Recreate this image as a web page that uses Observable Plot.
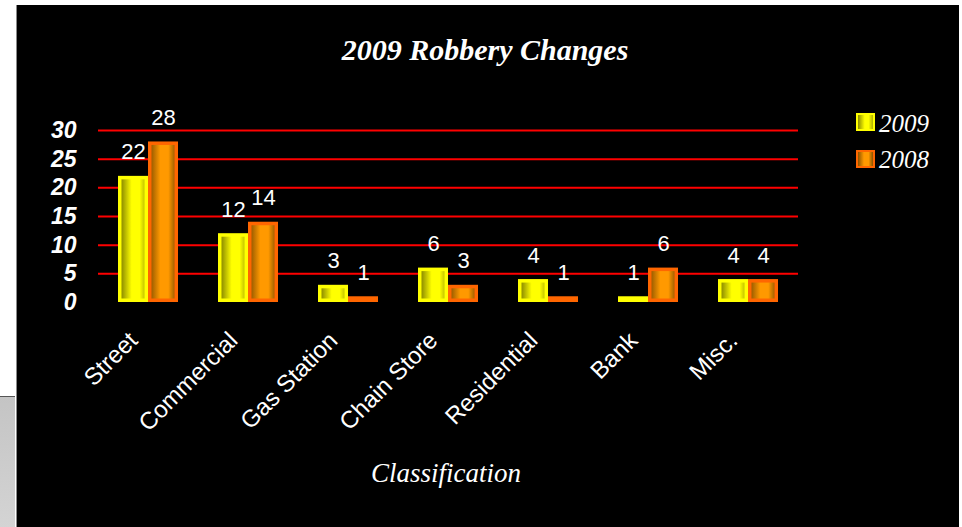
<!DOCTYPE html>
<html>
<head>
<meta charset="utf-8">
<script src="https://cdn.jsdelivr.net/npm/d3@7"></script>
<script src="https://cdn.jsdelivr.net/npm/@observablehq/plot@0.6"></script>
<style>
  html, body { margin: 0; padding: 0; background: #ffffff; }
  #wrap { position: relative; width: 962px; height: 527px; overflow: hidden; }
  #panel { position: absolute; left: 16px; top: 5px; width: 943px; height: 522px; background: #000; border-left: 1px solid #8a8a8a; box-sizing: border-box; }
  #side { position: absolute; left: 0; top: 396px; width: 15px; height: 131px; background: linear-gradient(to bottom, #c4c4c4, #d4d4d4); border-top: 1px solid #555; }
  #chart { position: absolute; left: 0; top: 0; }
  .serif { font-family: "Palatino Linotype", "Book Antiqua", Palatino, "Liberation Serif", "DejaVu Serif", serif; color: #fff; position: absolute; white-space: nowrap; }
  #title { font-size: 30px; font-weight: bold; font-style: italic; line-height: 30px; top: 35px; left: 485px; transform: translateX(-50%); }
  #xlabel { font-size: 27px; font-style: italic; line-height: 27px; top: 460px; left: 446px; transform: translateX(-50%); }
  .legtext { font-size: 25px; font-style: italic; line-height: 25px; left: 879px; }
  .sw { position: absolute; left: 856px; width: 19px; height: 18px; box-sizing: border-box; border: 2px solid; }
</style>
</head>
<body>
<div id="wrap">
  <div id="panel"></div>
  <div id="side"></div>
  <div id="chart"></div>
  <div id="title" class="serif">2009 Robbery Changes</div>
  <div id="xlabel" class="serif">Classification</div>
  <div class="sw" style="top:113px;border-color:#ffff00;background:linear-gradient(to right,#8a8a00,#ffff00 45%,#ffff00 70%,#b0b000);"></div>
  <div class="legtext serif" style="top:111px;">2009</div>
  <div class="sw" style="top:150px;border-color:#ff6600;background:linear-gradient(to right,#8a5200,#ff9900 40%,#ff9900 70%,#8a5200);"></div>
  <div class="legtext serif" style="top:147px;">2008</div>
</div>
<script>
const categories = ["Street", "Commercial", "Gas Station", "Chain Store", "Residential", "Bank", "Misc."];
const series = ["2009", "2008"];
const v2009 = [22, 12, 3, 6, 4, 1, 4];
const v2008 = [28, 14, 1, 3, 1, 6, 4];
const yTicks = [0, 5, 10, 15, 20, 25, 30];

const data = categories.flatMap((c, i) => [
  {cat: c, series: "2009", value: v2009[i]},
  {cat: c, series: "2008", value: v2008[i]}
]);
const d09 = data.filter(d => d.series === "2009");
const d08 = data.filter(d => d.series === "2008");

const chart = Plot.plot({
  width: 962,
  height: 527,
  marginLeft: 98,
  marginRight: 164,
  marginTop: 130,
  marginBottom: 225,
  style: {background: "transparent", color: "white", fontFamily: "Arial, 'Liberation Sans', sans-serif", overflow: "visible"},
  fx: {domain: categories, padding: 0, label: null},
  x: {domain: series, paddingInner: 0, paddingOuter: 0.613, axis: null},
  y: {domain: [0, 30], axis: null},
  marks: [
    Plot.ruleY(yTicks.filter(t => t > 0), {stroke: "#ff0000", strokeWidth: 2}),
    Plot.axisY({ticks: yTicks, tickSize: 0, tickPadding: 22, fontSize: 23, fontWeight: "bold", fontStyle: "italic", fill: "white", label: null}),
    Plot.axisFx({anchor: "bottom", tickRotate: -45, tickSize: 0, tickPadding: 34, dx: -15, fontSize: 24, fill: "white", label: null}),
    Plot.barY(d09, {fx: "cat", x: "series", y: "value", fill: "url(#g2009)", stroke: "#ffff00", strokeWidth: 3.5, inset: 1.75}),
    Plot.barY(d08, {fx: "cat", x: "series", y: "value", fill: "url(#g2008)", stroke: "#ff6600", strokeWidth: 3.5, inset: 1.75}),
    Plot.text(data, {fx: "cat", x: "series", y: "value", text: d => String(d.value), lineAnchor: "bottom", dy: -17, fontSize: 22, fill: "white"})
  ]
});

const defs = d3.select(chart).insert("defs", ":first-child");
function grad(id, stops) {
  const g = defs.append("linearGradient").attr("id", id).attr("x1", "0").attr("x2", "1").attr("y1", "0").attr("y2", "0");
  stops.forEach(([o, c]) => g.append("stop").attr("offset", o).attr("stop-color", c));
}
grad("g2009", [["0%", "#7a7a00"], ["45%", "#ffff00"], ["75%", "#ffff00"], ["100%", "#b0b000"]]);
grad("g2008", [["0%", "#8a5200"], ["40%", "#ff9900"], ["70%", "#ff9900"], ["100%", "#8a5200"]]);

document.getElementById("chart").appendChild(chart);
</script>
</body>
</html>
